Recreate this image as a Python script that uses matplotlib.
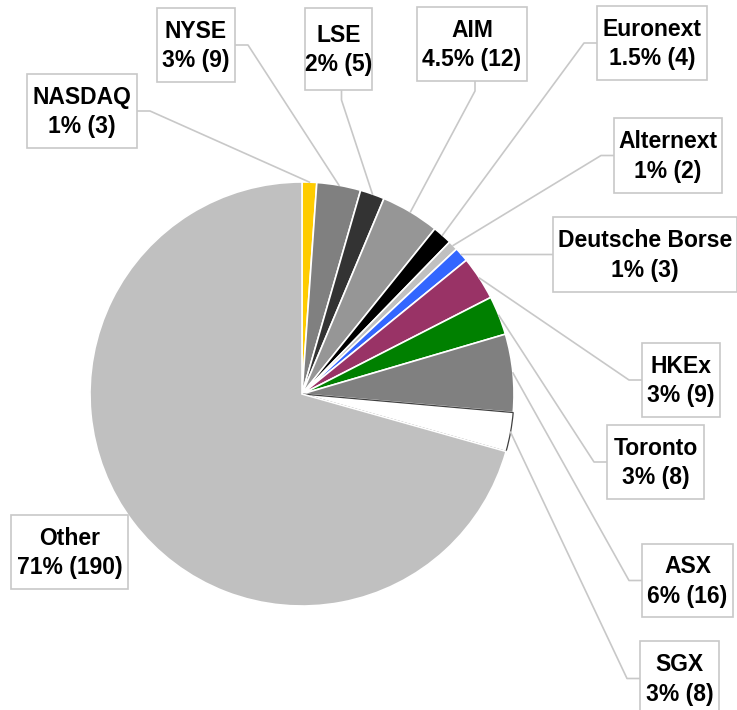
import matplotlib.pyplot as plt
import numpy as np
from matplotlib.patches import Rectangle

# data
exchanges = ["NASDAQ", "NYSE", "LSE", "AIM", "Euronext", "Alternext",
             "Deutsche Borse", "HKEx", "Toronto", "ASX", "SGX", "Other"]
counts = [3, 9, 5, 12, 4, 2, 3, 9, 8, 16, 8, 190]
pct_labels = ["1%", "3%", "2%", "4.5%", "1.5%", "1%",
              "1%", "3%", "3%", "6%", "3%", "71%"]
colors = ["#FFCC00", "#808080", "#333333", "#969696", "#000000", "#C0C0C0",
          "#3366FF", "#993366", "#008000", "#808080", "#FFFFFF", "#C0C0C0"]

W, H = 737, 710
# label boxes in pixel coords (left, top, right, bottom) and elbow side
boxes = {
    "NASDAQ": (27, 74, 137, 148, "right"),
    "NYSE": (157, 8, 235, 82, "right"),
    "LSE": (305, 8, 372, 90, "bottom"),
    "AIM": (417, 7, 527, 81, "bottom"),
    "Euronext": (597, 6, 707, 80, "left"),
    "Alternext": (614, 118, 722, 193, "left"),
    "Deutsche Borse": (553, 217, 737, 292, "left"),
    "HKEx": (642, 343, 720, 417, "left"),
    "Toronto": (607, 425, 704, 499, "left"),
    "ASX": (642, 544, 733, 617, "left"),
    "SGX": (640, 641, 719, 716, "left"),
    "Other": (11, 515, 128, 589, None),
}

plt.rcParams['font.family'] = ['Liberation Sans', 'DejaVu Sans']

fig = plt.figure(figsize=(W / 100, H / 100), dpi=100)
ax = fig.add_axes([0, 0, 1, 1])

cx, cy, r = 302, H - 394, 212
wedges, _ = ax.pie(counts, colors=colors, startangle=90, counterclock=False,
                   center=(cx, cy), radius=r, frame=True,
                   wedgeprops=dict(edgecolor="white", linewidth=1.2))
ax.set_xlim(0, W)
ax.set_ylim(0, H)
ax.axis("off")

# SGX slice has a dark outline
wedges[10].set_edgecolor("#404040")
wedges[10].set_linewidth(0.9)

for w, name, n, pct in zip(wedges, exchanges, counts, pct_labels):
    x0, y0, x1, y1, side = boxes[name]
    ax.add_patch(Rectangle((x0, H - y1), x1 - x0, y1 - y0, facecolor="white",
                           edgecolor="#C8C8C8", linewidth=1.2, zorder=3))
    ax.text((x0 + x1) / 2, H - (y0 + y1) / 2 - 1, f"{name}\n{pct} ({n})",
            ha="center", va="center", fontsize=16.5, fontweight="bold",
            linespacing=1.35, zorder=4)
    if side is None:
        continue
    mid = np.deg2rad((w.theta1 + w.theta2) / 2)
    px, py = cx + r * np.cos(mid), cy + r * np.sin(mid)
    if side == "right":
        bx, by = x1, H - (y0 + y1) / 2
        ex = bx + 13
        ax.plot([px, ex, bx], [py, by, by], color="#C8C8C8", lw=1.2, zorder=2)
    elif side == "left":
        bx, by = x0, H - (y0 + y1) / 2
        ex = bx - 13
        ax.plot([px, ex, bx], [py, by, by], color="#C8C8C8", lw=1.2, zorder=2)
    else:
        bx, by = (x0 + x1) / 2 + 3, H - y1
        ey = by - 10
        ax.plot([px, bx, bx], [py, ey, by], color="#C8C8C8", lw=1.2, zorder=2)

fig.savefig("out.png", dpi=100)
